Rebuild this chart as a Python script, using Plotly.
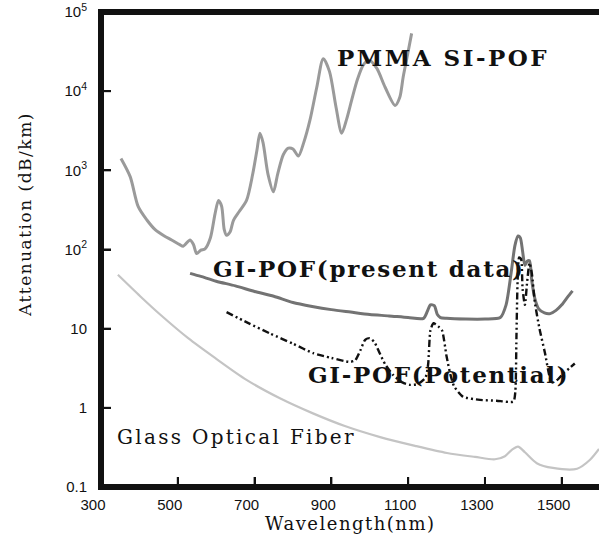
import math
import plotly.graph_objects as go

# ---------------- data ----------------
pmma_wl = [352, 376, 397, 420, 441, 465, 484, 505, 514, 532, 541, 549, 560, 571, 585, 597,
           606, 614, 621, 627, 636, 645, 660, 679, 695, 706, 714, 722, 735, 749, 760, 775,
           788, 800, 814, 828, 844, 862, 879, 895, 912, 927, 940, 953, 968, 983, 998, 1018,
           1040, 1066, 1078, 1087, 1098, 1109]
pmma_att = [1413, 832, 347, 234, 178, 148, 132, 115, 110, 132, 115, 89, 98, 102, 141, 282,
            417, 355, 178, 151, 166, 234, 302, 417, 891, 1778, 2951, 2239, 891, 537, 891, 1585,
            1905, 1862, 1514, 2239, 4266, 11220, 25700, 17780, 6310, 2951, 4467, 7762, 14125, 21380, 24500, 19500,
            11220, 6607, 8318, 15136, 28180, 53700]

gi_wl = [532, 560, 600, 650, 700, 750, 800, 850, 900, 950, 1000, 1050, 1100, 1140, 1150, 1158,
         1168, 1176, 1184, 1200, 1250, 1300, 1340, 1355, 1368, 1378, 1386, 1392, 1398, 1404, 1410,
         1416, 1422, 1430, 1440, 1455, 1470, 1485, 1500, 1515, 1528]
gi_att = [50, 45.7, 39.8, 34.7, 29.5, 25.7, 21.4, 19.1, 17.4, 16.2, 15.1, 14.5, 13.8, 13.5, 16.6, 20.0,
          19.5, 15.1, 13.8, 13.5, 13.2, 13.2, 13.8, 20, 50, 112, 148, 141, 95, 63, 71,
          72, 40, 24, 17.8, 15.8, 15.5, 17, 20, 25, 30]

pot_wl = [627, 680, 740, 800, 853, 900, 948, 962, 975, 988, 1000, 1012, 1025, 1040, 1060, 1085,
          1105, 1125, 1145, 1152, 1158, 1166, 1178, 1188, 1200, 1210, 1220, 1243, 1287, 1330, 1374,
          1379, 1382, 1385, 1389, 1394, 1398, 1404, 1410, 1416, 1422, 1430, 1442, 1456, 1474, 1490,
          1505, 1520, 1534]
pot_att = [16.2, 12.0, 8.71, 6.46, 4.90, 4.27, 3.80, 3.98, 5.25, 7.24, 7.59, 6.76, 5.01, 3.55, 2.63, 2.09,
           1.95, 2.0, 2.40, 3.55, 9.55, 11.7, 10.7, 9.55, 4.47, 2.63, 1.86, 1.38, 1.26, 1.23, 1.20,
           1.58, 7.94, 39.8, 79.4, 75.9, 31.6, 20, 39.8, 67.6, 50.1, 21.4, 10, 5.01, 2.09, 2.29,
           2.75, 3.16, 3.63]

glass_wl = [344, 402, 454, 527, 597, 680, 766, 852, 935, 1027, 1118, 1201, 1274, 1326, 1352, 1370,
            1386, 1404, 1435, 1477, 1540, 1573, 1597]
glass_att = [47.9, 25.7, 15.1, 7.59, 4.27, 2.24, 1.32, 0.851, 0.589, 0.427, 0.331, 0.269, 0.240, 0.224,
             0.245, 0.295, 0.324, 0.275, 0.200, 0.174, 0.170, 0.219, 0.302]

x_ticks = [300, 500, 700, 900, 1100, 1300, 1500]
y_ticks = [0.1, 1, 10, 100, 1000, 10000, 100000]
y_ticktext = ["0.1", "1", "10", "10<sup>2</sup>", "10<sup>3</sup>", "10<sup>4</sup>", "10<sup>5</sup>"]

labels = ["PMMA SI-POF", "GI-POF(present data)", "GI-POF(Potential)", "Glass Optical Fiber"]
x_title = "Wavelength(nm)"
y_title = "Attenuation (dB/km)"

# ---------------- figure ----------------
W, H = 599, 547
L, R, T, B = 101, 0, 12, 60
X_RANGE = [300, 1597]
Y_RANGE = [-1, 5]
pw, ph = W - L - R, H - T - B

fig = go.Figure()
fig.add_trace(go.Scatter(x=glass_wl, y=glass_att, mode="lines", hoverinfo="skip",
                         line=dict(color="#c4c4c4", width=2.2, shape="spline", smoothing=0.8)))
fig.add_trace(go.Scatter(x=pmma_wl, y=pmma_att, mode="lines", hoverinfo="skip",
                         line=dict(color="#9a9a9a", width=3, shape="spline", smoothing=0.8)))
fig.add_trace(go.Scatter(x=gi_wl, y=gi_att, mode="lines", hoverinfo="skip",
                         line=dict(color="#737373", width=3, shape="spline", smoothing=0.7)))
fig.add_trace(go.Scatter(x=pot_wl, y=pot_att, mode="lines", hoverinfo="skip",
                         line=dict(color="#111111", width=2.4, shape="spline", smoothing=0.6,
                                   dash="7px,3px,2px,3px,2px,3px")))

# ---- frame and inward tick marks, derived from the axis ranges and tick arrays ----
TL = 10  # tick length in px
x_lo, x_hi = X_RANGE
y_lo, y_hi = 10 ** Y_RANGE[0], 10 ** Y_RANGE[1]
tick_dx = TL / pw * (x_hi - x_lo)
tick_dy = 10 ** (Y_RANGE[0] + TL / ph * (Y_RANGE[1] - Y_RANGE[0]))

fx, fy = [], []
for xt in x_ticks[1:]:
    fx += [xt, xt, None]
    fy += [y_lo, tick_dy, None]
for yt in y_ticks[1:-1]:
    fx += [x_lo, x_lo + tick_dx, None]
    fy += [yt, yt, None]
fig.add_trace(go.Scatter(x=fx, y=fy, mode="lines", hoverinfo="skip",
                         line=dict(color="#111", width=2)))
fig.add_trace(go.Scatter(x=[x_lo, x_lo, None, x_lo, x_hi, None, x_lo, x_hi],
                         y=[y_lo, y_hi, None, y_hi, y_hi, None, y_lo, y_lo],
                         mode="lines", hoverinfo="skip",
                         line=dict(color="#111", width=6)))


def px(xp):
    return (xp - L) / pw


def py(yp):
    return (H - B - yp) / ph


serif = "DejaVu Serif"


def span(t, ls, bold=False):
    s = f'<span style="letter-spacing:{ls}px">{t}</span>'
    return f"<b>{s}</b>" if bold else s


annos = [
    dict(text=span(labels[0], 2.5, True), x=px(335), y=py(58), xanchor="left", yanchor="middle",
         font=dict(family=serif, size=23, color="#111")),
    dict(text=span(labels[1], 1.7, True), x=px(211), y=py(268), xanchor="left", yanchor="middle",
         font=dict(family=serif, size=23, color="#111")),
    dict(text=span(labels[2], 1.7, True), x=px(306), y=py(374), xanchor="left", yanchor="middle",
         font=dict(family=serif, size=23, color="#111")),
    dict(text=span(labels[3], 2.3), x=px(115), y=py(437), xanchor="left", yanchor="middle",
         font=dict(family=serif, size=20, color="#111")),
    dict(text=span(x_title, 1.5), x=px(350), y=py(523), xanchor="center", yanchor="middle",
         font=dict(family=serif, size=18, color="#111")),
    dict(text=span(y_title, 1.5), x=px(25), y=py(215), xanchor="center", yanchor="middle",
         textangle=-90, font=dict(family=serif, size=17, color="#111")),
]
for a in annos:
    a.update(xref="paper", yref="paper", showarrow=False)

fig.update_layout(
    width=W, height=H,
    margin=dict(l=L, r=R, t=T, b=B, pad=0, autoexpand=False),
    paper_bgcolor="white", plot_bgcolor="white",
    showlegend=False,
    annotations=annos,
    font=dict(family="Liberation Sans", size=15, color="#111"),
)
fig.update_xaxes(
    range=X_RANGE, tickvals=x_ticks, ticks="inside", ticklen=10, tickwidth=2,
    tickcolor="#111", showline=True, linewidth=3, linecolor="#111", mirror=True,
    showgrid=False, zeroline=False, ticklabelshift=-8, ticklabelstandoff=2,
    tickfont=dict(family="Liberation Sans", size=15),
)
fig.update_yaxes(
    type="log", range=Y_RANGE, tickvals=y_ticks, ticktext=y_ticktext,
    ticks="inside", ticklen=10, tickwidth=2, tickcolor="#111",
    showline=True, linewidth=3, linecolor="#111", mirror=False,
    showgrid=False, zeroline=False, ticklabelstandoff=8,
    tickfont=dict(family="Liberation Sans", size=15),
)

fig.write_html(
    "out.html",
    config={"displayModeBar": False},
    post_script="document.body.style.margin='0';document.body.style.padding='0';"
                "document.documentElement.style.overflow='hidden';",
)
